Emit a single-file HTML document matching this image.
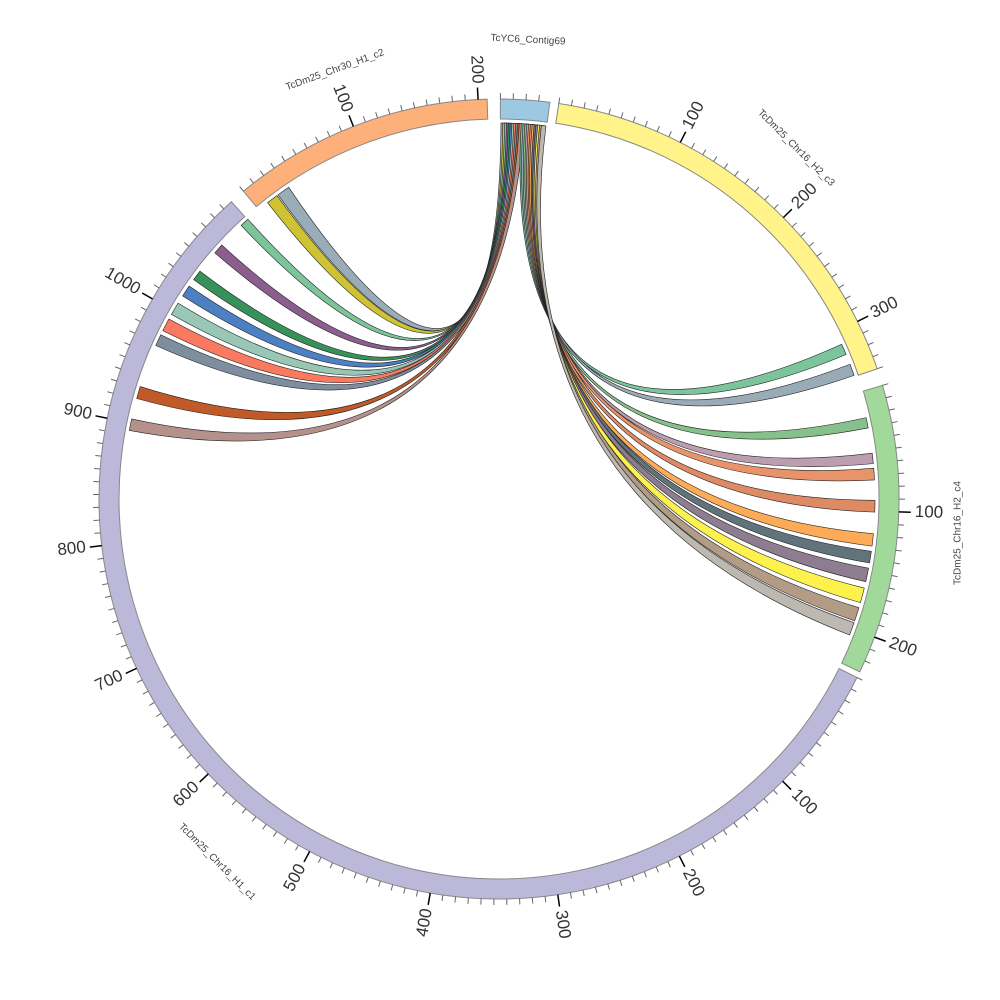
<!DOCTYPE html>
<html><head><meta charset="utf-8"><style>html,body{margin:0;padding:0;background:#fff}svg{display:block}text{font-family:"Liberation Sans","DejaVu Sans",sans-serif}</style></head>
<body>
<svg id="s" width="1000" height="1000" viewBox="0 0 1000 1000" xmlns="http://www.w3.org/2000/svg"></svg>
<script>
var cx=499,cy=499,S=0.1835,NS="http://www.w3.org/2000/svg",svg=document.getElementById('s');
function P(r,a){a=a*Math.PI/180;return [cx+r*Math.sin(a),cy-r*Math.cos(a)];}
function f(p){return p[0].toFixed(2)+","+p[1].toFixed(2);}
var html="";
var segs=[
 {s:0.2,e:7.3,c:"#9cc8e2",len:39},
 {s:8.6,e:71,c:"#fff38a",len:340},
 {s:73.5,e:115.6,c:"#a1d99b",len:229},
 {s:116.5,e:318,c:"#bcb8da",len:1098},
 {s:320.3,e:358.3,c:"#fdb07a",len:208}
];
var left=[[324,326,"#9aacb8"],[322,323.8,"#cfc334"],[316.7,318.1,"#7cc49a"],[310.9,312.5,"#8c5e8e"],[305.7,307.3,"#37925a"],[302.7,304.5,"#4c80c2"],[299.4,301.4,"#99c7b6"],[296.6,298.6,"#f97a60"],[294.1,295.9,"#7f8e9e"],[285.5,287.4,"#c05a28"],[280.5,282.3,"#b5918c"]];
var right=[[65.7,67.4,"#7cc59c"],[69,70.8,"#9aabb8"],[77.5,79.1,"#86c08a"],[83,84.6,"#bc9eae"],[85.3,87.1,"#e8946a"],[90.2,92,"#de8a64"],[95.3,97.2,"#fdab57"],[98,99.8,"#62737c"],[100.6,102.7,"#8e7c90"],[103.7,106,"#fdf14d"],[106.8,108.9,"#b39c86"],[109.2,111.2,"#bdb8b0"]];
var R=376,C=cx+","+cy;
function rib(a1,a2,b1,b2,col){
 return '<path d="M'+f(P(R,a1))+' A'+R+' '+R+' 0 0 1 '+f(P(R,a2))+' Q'+C+' '+f(P(R,b1))+' A'+R+' '+R+' 0 0 1 '+f(P(R,b2))+' Q'+C+' '+f(P(R,a1))+'Z" fill="'+col+'" stroke="#222" stroke-width="0.6"/>';
}
left.forEach(function(d,i){var a=0.3+i*0.28;html+=rib(a,a+0.7,d[0],d[1],d[2]);});
right.forEach(function(d,i){var a=3.4+i*0.28;html+=rib(a,a+0.7,d[0],d[1],d[2]);});
var ri=380,ro=400;
segs.forEach(function(g){
 var lg=(g.e-g.s)>180?1:0;
 html+='<path d="M'+f(P(ro,g.s))+' A'+ro+' '+ro+' 0 '+lg+' 1 '+f(P(ro,g.e))+' L'+f(P(ri,g.e))+' A'+ri+' '+ri+' 0 '+lg+' 0 '+f(P(ri,g.s))+'Z" fill="'+g.c+'" stroke="#888" stroke-width="1"/>';
 for(var u=0;u<=g.len;u+=10){
  var a=g.s+u*S; if(a>g.e+0.01)break;
  var maj=(u%100==0&&u>0);
  html+='<line x1="'+P(ro,a)[0].toFixed(2)+'" y1="'+P(ro,a)[1].toFixed(2)+'" x2="'+P(ro+(maj?12:6),a)[0].toFixed(2)+'" y2="'+P(ro+(maj?12:6),a)[1].toFixed(2)+'" stroke="'+(maj?'#000':'#666')+'" stroke-width="'+(maj?1.5:1)+'"/>';
  if(maj){
   var p=P(416,a),rot,anc;
   if(a<180){rot=a-90;anc="start";}else{rot=a+90;anc="end";}
   html+='<text x="'+p[0].toFixed(2)+'" y="'+p[1].toFixed(2)+'" font-size="17" fill="#333" text-anchor="'+anc+'" dominant-baseline="middle" transform="rotate('+rot.toFixed(2)+' '+p[0].toFixed(2)+' '+p[1].toFixed(2)+')">'+u+'</text>';
  }
 }
});
function lab(x,y,r,t){html+='<text x="'+x+'" y="'+y+'" font-size="10" fill="#444" text-anchor="middle" dominant-baseline="middle" transform="rotate('+r+' '+x+' '+y+')">'+t+'</text>';}
lab(528,40,3,"TcYC6_Contig69");
lab(796,148,45,"TcDm25_Chr16_H2_c3");
lab(958,533,-90,"TcDm25_Chr16_H2_c4");
lab(217,862,45,"TcDm25_Chr16_H1_c1");
lab(335,70,-20,"TcDm25_Chr30_H1_c2");
svg.innerHTML=html;
</script>
</body></html>
